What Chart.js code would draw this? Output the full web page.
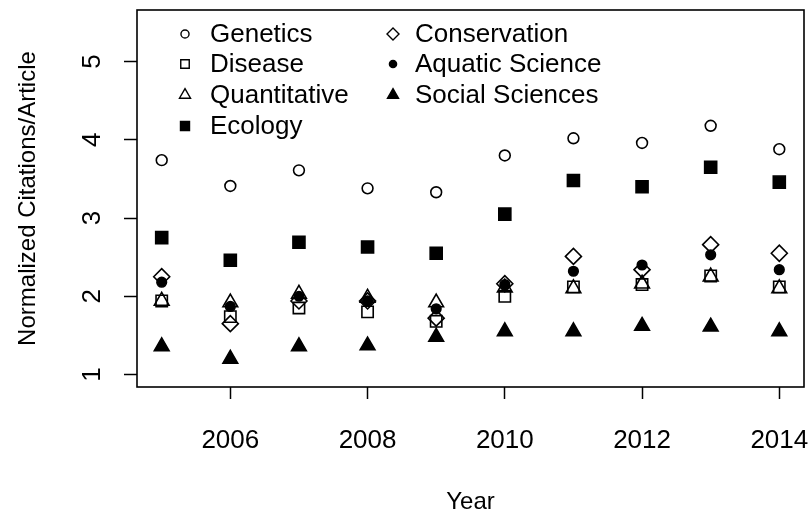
<!DOCTYPE html>
<html>
<head>
<meta charset="utf-8">
<script src="https://cdn.jsdelivr.net/npm/chart.js@4/dist/chart.umd.min.js"></script>
<style>
  html, body { margin: 0; padding: 0; background: #fff; }
  #wrap { width: 811px; height: 514px; }
</style>
</head>
<body>
<div id="wrap"><canvas id="chart" width="811" height="514"></canvas></div>
<script>
// Data
const years = [2005, 2006, 2007, 2008, 2009, 2010, 2011, 2012, 2013, 2014];
const genetics     = [3.74, 3.41, 3.61, 3.38, 3.33, 3.80, 4.02, 3.96, 4.18, 3.88];
const disease      = [1.94, 1.74, 1.85, 1.80, 1.68, 2.00, 2.12, 2.15, 2.26, 2.12];
const quantitative = [1.94, 1.92, 2.03, 1.98, 1.92, 2.11, 2.10, 2.16, 2.25, 2.10];
const ecology      = [2.75, 2.46, 2.69, 2.63, 2.55, 3.05, 3.48, 3.40, 3.65, 3.46];
const conservation = [2.25, 1.65, 1.94, 1.94, 1.72, 2.16, 2.51, 2.34, 2.66, 2.55];
const aquatic      = [2.18, 1.87, 2.00, 1.94, 1.84, 2.15, 2.32, 2.40, 2.53, 2.34];
const social       = [1.36, 1.20, 1.36, 1.37, 1.48, 1.55, 1.55, 1.62, 1.61, 1.55];

const xTicks = [2006, 2008, 2010, 2012, 2014];
const yTicks = [1, 2, 3, 4, 5];

const FONT = "'Liberation Sans', Arial, sans-serif";

function pts(values) {
  return values.map((v, i) => ({ x: years[i], y: v }));
}

function series(label, values, style, radius, filled) {
  return {
    label: label,
    data: pts(values),
    pointStyle: style,
    pointRadius: radius,
    pointHoverRadius: radius,
    pointBorderWidth: 1.6,
    borderColor: '#000',
    backgroundColor: filled ? '#000' : 'rgba(0,0,0,0)',
    showLine: false
  };
}

const datasets = [
  series('Genetics', genetics, 'circle', 5.4, false),
  series('Disease', disease, 'rect', 8, false),
  series('Quantitative', quantitative, 'triangle', 8.5, false),
  series('Ecology', ecology, 'rect', 8.5, true),
  series('Conservation', conservation, 'rectRot', 8, false),
  series('Aquatic Science', aquatic, 'circle', 4.8, true),
  series('Social Sciences', social, 'triangle', 8.5, true)
];

// drop the extra room Chart.js reserves for overhanging tick labels
function noPadding(s) {
  s.paddingLeft = 0; s.paddingRight = 0;
  s.paddingTop = 0; s.paddingBottom = 0;
}

// box around the plot region, like R's box()
const plotBox = {
  id: 'plotBox',
  afterDraw(chart) {
    const a = chart.chartArea, ctx = chart.ctx;
    ctx.save();
    ctx.strokeStyle = '#000';
    ctx.lineWidth = 1.6;
    ctx.strokeRect(a.left, a.top, a.right - a.left, a.bottom - a.top);
    ctx.restore();
  }
};

// two-column legend in the top-left of the plot (column-first order)
const cornerLegend = {
  id: 'cornerLegend',
  afterDraw(chart) {
    const ctx = chart.ctx;
    const symX = [185, 393], textX = [210, 415];
    const rowY = [34, 64, 95, 126];
    ctx.save();
    ctx.font = '26px ' + FONT;
    ctx.textBaseline = 'middle';
    ctx.textAlign = 'left';
    chart.data.datasets.forEach((ds, i) => {
      const col = i < 4 ? 0 : 1;
      const row = i < 4 ? i : i - 4;
      const y = rowY[row];
      ctx.strokeStyle = '#000';
      ctx.fillStyle = ds.backgroundColor;
      ctx.lineWidth = 1.4;
      Chart.helpers.drawPoint(ctx, {
        pointStyle: ds.pointStyle,
        radius: ds.pointRadius * 0.75,
        rotation: 0,
        borderWidth: 1.4
      }, symX[col], y);
      ctx.fillStyle = '#000';
      ctx.fillText(ds.label, textX[col], y + 1);
    });
    ctx.restore();
  }
};

new Chart(document.getElementById('chart'), {
  type: 'scatter',
  data: { datasets: datasets },
  options: {
    responsive: false,
    animation: false,
    layout: { autoPadding: false, padding: { top: 10, right: 7, left: 0, bottom: 0 } },
    plugins: {
      legend: { display: false },
      tooltip: { enabled: false }
    },
    scales: {
      x: {
        type: 'linear',
        min: 2004.64,
        max: 2014.36,
        afterBuildTicks: s => { s.ticks = xTicks.map(v => ({ value: v })); },
        afterFit: s => { s.height = 127; noPadding(s); },
        border: { display: false },
        grid: {
          display: true,
          drawOnChartArea: false,
          drawTicks: true,
          tickLength: 12,
          tickWidth: 1.5,
          tickColor: '#000'
        },
        ticks: {
          color: '#000',
          font: { family: FONT, size: 26 },
          padding: 26,
          maxRotation: 0,
          callback: v => String(v)
        },
        title: {
          display: true,
          text: 'Year',
          color: '#000',
          font: { family: FONT, size: 24 },
          padding: { top: 0, bottom: -3 }
        }
      },
      y: {
        type: 'linear',
        min: 0.84,
        max: 5.66,
        afterBuildTicks: s => { s.ticks = yTicks.map(v => ({ value: v })); },
        afterFit: s => { s.width = 137; noPadding(s); },
        border: { display: false },
        grid: {
          display: true,
          drawOnChartArea: false,
          drawTicks: true,
          tickLength: 13,
          tickWidth: 1.5,
          tickColor: '#000'
        },
        ticks: {
          color: '#000',
          font: { family: FONT, size: 26 },
          padding: 24,
          minRotation: 90,
          maxRotation: 90,
          crossAlign: 'center',
          callback: v => String(v)
        },
        title: {
          display: true,
          text: 'Normalized Citations/Article',
          color: '#000',
          font: { family: FONT, size: 24 },
          padding: { top: 14, bottom: 0 }
        }
      }
    }
  },
  plugins: [plotBox, cornerLegend]
});
</script>
</body>
</html>
